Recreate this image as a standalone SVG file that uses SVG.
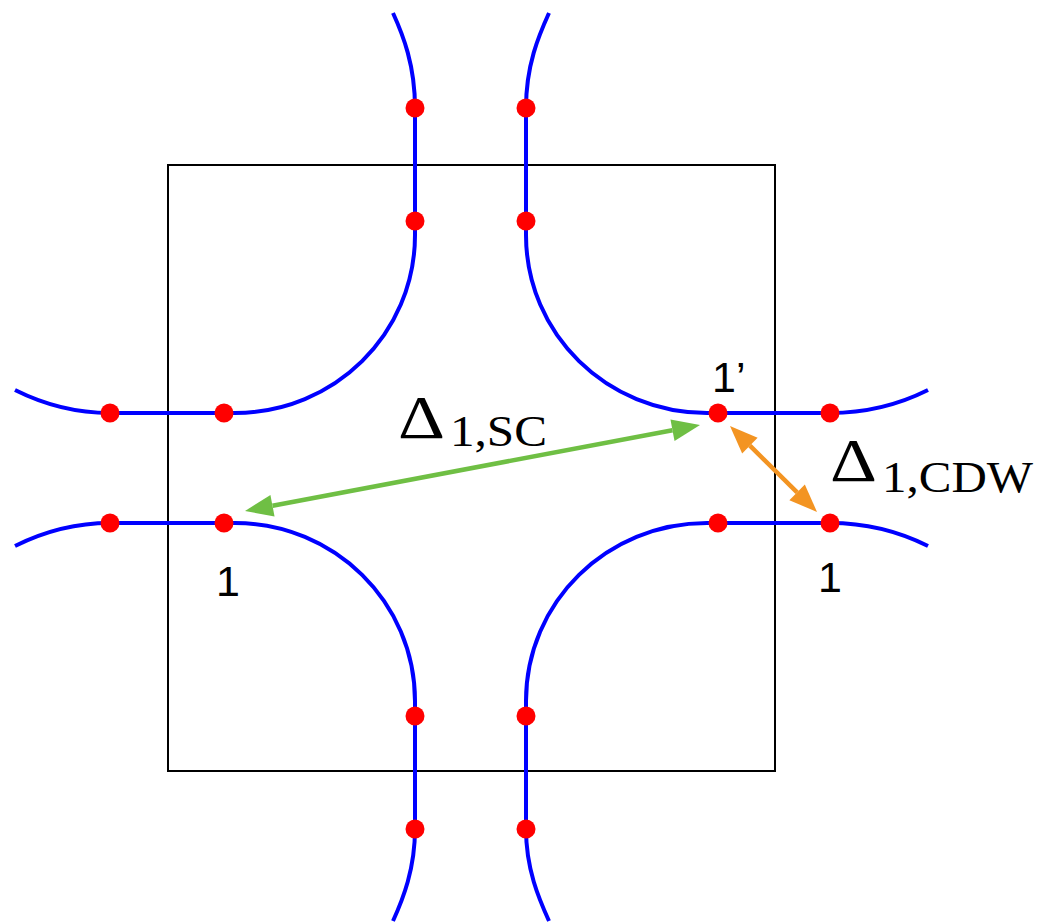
<svg xmlns="http://www.w3.org/2000/svg" width="1041" height="923" viewBox="0 0 1041 923">
<style>
.bz{fill:#fff;stroke:#000;stroke-width:2}
.fs{fill:none;stroke:#0000ff;stroke-width:4;stroke-linecap:butt}
.dot{fill:#ff0000}
.lbl{font-family:"Liberation Sans",Arial,Helvetica,sans-serif;font-size:43px;fill:#000}
.mth{font-family:"Liberation Serif","Times New Roman",serif;fill:#000}
.ga{stroke:#6fbf44;stroke-width:4.5;fill:none}
.oa{stroke:#f39422;stroke-width:4.5;fill:none}
</style>
<defs>
<marker id="mg" markerUnits="userSpaceOnUse" markerWidth="32" markerHeight="28" viewBox="0 -14 32 28" refX="0" refY="0" orient="auto-start-reverse" overflow="visible"><path d="M0,-11 L28,0 L0,11 z" fill="#6fbf44"/></marker>
<marker id="mo" markerUnits="userSpaceOnUse" markerWidth="32" markerHeight="28" viewBox="0 -14 32 28" refX="0" refY="0" orient="auto-start-reverse" overflow="visible"><path d="M0,-11 L28,0 L0,11 z" fill="#f39422"/></marker>
</defs>
<rect width="1041" height="923" fill="#fff"/>
<g id="zone"><rect class="bz" x="168" y="165" width="607" height="606"/></g>
<g id="fermi-surface">
<path class="fs" d="M393,13 C403,35 415,65 415,108 L415,235 C415,334 334,413 235,413 L110,413 C75,413 45,405 15,390"/>
<path class="fs" d="M549,13 C539,35 526,65 526,108 L526,235 C526,334 607,413 707,413 L830,413 C866,413 898,405 928,390"/>
<path class="fs" d="M393,921 C403,899 415,869 415,829 L415,701 C415,602 334,523 235,523 L110,523 C75,523 45,531 15,546"/>
<path class="fs" d="M549,921 C539,899 526,869 526,829 L526,701 C526,602 607,523 707,523 L830,523 C866,523 898,531 928,546"/>
</g>
<g id="connectors">
<line class="ga" x1="272.5" y1="505.8" x2="672.5" y2="430.2" marker-start="url(#mg)" marker-end="url(#mg)"/>
<line class="oa" x1="749.9" y1="445.7" x2="797.1" y2="492.3" marker-start="url(#mo)" marker-end="url(#mo)"/>
</g>
<g id="dots">
<g id="d1"><circle class="dot" cx="415" cy="108" r="9.5"/></g>
<g id="d2"><circle class="dot" cx="415" cy="221" r="9.5"/></g>
<g id="d3"><circle class="dot" cx="526" cy="108" r="9.5"/></g>
<g id="d4"><circle class="dot" cx="526" cy="221" r="9.5"/></g>
<g id="d5"><circle class="dot" cx="415" cy="716" r="9.5"/></g>
<g id="d6"><circle class="dot" cx="415" cy="829" r="9.5"/></g>
<g id="d7"><circle class="dot" cx="526" cy="716" r="9.5"/></g>
<g id="d8"><circle class="dot" cx="526" cy="829" r="9.5"/></g>
<g id="d9"><circle class="dot" cx="110" cy="413" r="9.5"/></g>
<g id="d10"><circle class="dot" cx="224" cy="413" r="9.5"/></g>
<g id="d11"><circle class="dot" cx="110" cy="523" r="9.5"/></g>
<g id="d12"><circle class="dot" cx="224" cy="523" r="9.5"/></g>
<g id="d13"><circle class="dot" cx="718" cy="413" r="9.5"/></g>
<g id="d14"><circle class="dot" cx="830" cy="413" r="9.5"/></g>
<g id="d15"><circle class="dot" cx="718" cy="523" r="9.5"/></g>
<g id="d16"><circle class="dot" cx="830" cy="523" r="9.5"/></g>
</g>
<g id="labels">
<text class="lbl" x="712" y="392">1’</text>
<text class="lbl" x="228" y="596" text-anchor="middle">1</text>
<text class="lbl" x="830" y="592" text-anchor="middle">1</text>
<g id="delta-sc">
<text class="mth" x="398" y="438" font-size="62" textLength="47" lengthAdjust="spacingAndGlyphs">Δ</text>
<text class="mth" x="450" y="446" font-size="45" textLength="97" lengthAdjust="spacingAndGlyphs">1,SC</text>
</g>
<g id="delta-cdw">
<text class="mth" x="830" y="481" font-size="62" textLength="47" lengthAdjust="spacingAndGlyphs">Δ</text>
<text class="mth" x="882" y="492" font-size="45" textLength="151" lengthAdjust="spacingAndGlyphs">1,CDW</text>
</g>
</g>
</svg>
